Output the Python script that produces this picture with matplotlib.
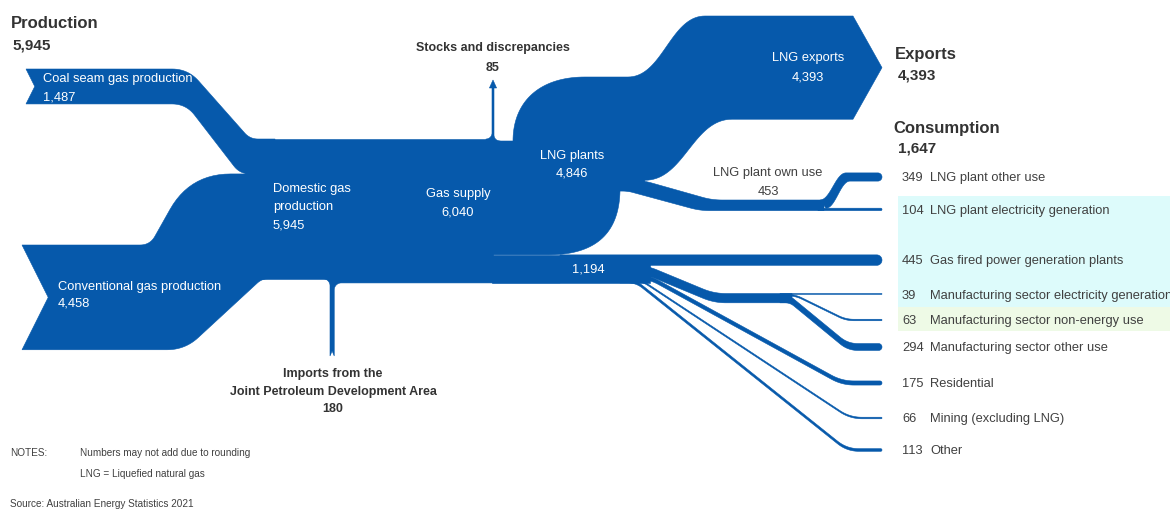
import numpy as np
import matplotlib.pyplot as plt
from matplotlib.patches import Polygon, Rectangle

plt.rcParams['font.family'] = ['Liberation Sans', 'DejaVu Sans']

# gas flows, PJ
coal_seam = 1487
conventional = 4458
domestic = 5945
imports_jpda = 180
stocks = 85
gas_supply = 6040
lng_plants = 4846
lng_exports = 4393
own_use = 453
own_use_vals = [349, 104]
own_use_names = ['LNG plant other use', 'LNG plant electricity generation']
domestic_use = 1194
use_vals = [445, 39, 63, 294, 175, 66, 113]
use_names = ['Gas fired power generation plants',
             'Manufacturing sector electricity generation',
             'Manufacturing sector non-energy use',
             'Manufacturing sector other use',
             'Residential', 'Mining (excluding LNG)', 'Other']
production_total = 5945
exports_total = 4393
consumption_total = 1647

# layout, pixel units with y going down
S = 0.0235        # px per PJ
TOP = 140         # top of the trunk
END_X = 882       # right end of the consumption flows
row_y = [178, 211, 261, 296, 321, 348, 384, 419, 451]
fan_x = [(648, 842), (640, 850), (636, 847)]   # residential, mining, other
BLUE = '#0659ab'
GREY = '#404040'
FS = 9.3

fig = plt.figure(figsize=(11.7, 5.1), dpi=100)
ax = fig.add_axes([0, 0, 1, 1])
ax.set_xlim(0, 1170)
ax.set_ylim(510, 0)
ax.axis('off')


def cubic(p0, p1, p2, p3, n=40):
    t = np.linspace(0, 1, n)[:, None]
    p0, p1, p2, p3 = map(np.asarray, (p0, p1, p2, p3))
    return (1-t)**3*p0 + 3*(1-t)**2*t*p1 + 3*(1-t)*t**2*p2 + t**3*p3


def sbend(x0, y0, x1, y1, k=0.4):
    dx = x1 - x0
    return cubic((x0, y0), (x0 + k*dx, y0), (x1 - k*dx, y1), (x1, y1))


def arc(cx, cy, r, a0, a1, n=20):
    a = np.radians(np.linspace(a0, a1, n))
    return np.column_stack([cx + r*np.cos(a), cy + r*np.sin(a)])


def rounded(pts, rad, n=14):
    # polyline with its inner corners rounded off
    pts = np.asarray(pts, float)
    if np.isscalar(rad):
        rad = [rad]*(len(pts) - 2)
    out = [pts[:1]]
    t = np.linspace(0, 1, n)[:, None]
    for i in range(1, len(pts) - 1):
        p0, p1, p2 = pts[i-1], pts[i], pts[i+1]
        d1, d2 = p0 - p1, p2 - p1
        l1, l2 = np.hypot(*d1), np.hypot(*d2)
        r = min(rad[i-1], l1/2, l2/2)
        a, b = p1 + d1/l1*r, p1 + d2/l2*r
        out.append((1-t)**2*a + 2*(1-t)*t*p1 + t**2*b)
    out.append(pts[-1:])
    return np.vstack(out)


def shape(*parts):
    pts = np.vstack([np.atleast_2d(np.asarray(p, float)) for p in parts])
    ax.add_patch(Polygon(pts, closed=True, fc=BLUE, ec=BLUE, lw=0.4))


def line_flow(path, w, rad=10, cap=True, bot=None):
    # band of vertical thickness w whose top edge follows path
    path = np.asarray(path, float)
    if bot is None:
        bot = path + [0, w]
    top, low = rounded(path, rad), rounded(bot, rad)
    parts = [top]
    if cap:
        r = w/2
        parts.append(arc(path[-1, 0], path[-1, 1] + r, r, -90, 90))
    parts.append(low[::-1])
    shape(*parts)


# highlight boxes behind some consumption rows
ax.add_patch(Rectangle((898, 197), 272, 111, fc='#ddfbfb', ec='none'))
ax.add_patch(Rectangle((898, 308), 272, 24, fc='#eefae6', ec='none'))

# production inputs
wc = coal_seam*S
wv = conventional*S
wd = domestic*S
cy, vy = 70, 246
top = rounded([(26, cy), (188, cy), (250, TOP), (275, TOP)], [16, 8])
bot = rounded([(26, cy + wc), (186, cy + wc), (240, TOP + wc), (275, TOP + wc)], [14, 10])
shape(top, bot[::-1], [(26 + wc/4, cy + wc/2)])

top = rounded([(22, vy), (150, vy), (190, TOP + wc), (275, TOP + wc)], [10, 42])
bot = rounded([(22, vy + wv), (185, vy + wv), (262, TOP + wd), (275, TOP + wd)], [18, 8])
shape(top, bot[::-1], [(22 + wv/4, vy + wv/2)])

# domestic production trunk
sx = 492
shape([(245, TOP), (sx + 1, TOP), (sx + 1, TOP + wd), (245, TOP + wd)])

# imports joining from below
ix, iw, ib, r = 330, imports_jpda*S, TOP + wd, 7
shape([(ix, 357)], arc(ix - r, ib + r, r, 0, -90), [(560, ib), (560, ib + iw)],
      arc(ix + iw + r, ib + iw + r, r, -90, -180), [(ix + iw, 357), (ix + iw/2, 352)])

# stocks and discrepancies leaving upwards
sw = stocks*S
shape([(sx, 89), (sx, TOP - 6)], arc(sx - 6, TOP - 6, 6, 0, 90),
      [(sx - 6, TOP + 5), (sx + sw + 10, TOP + 5)],
      arc(sx + sw + 6, TOP + sw - 6, 6, 90, 180),
      [(sx + sw, 89), (sx + sw + 2.6, 89), (sx + sw/2, 81), (sx - 2.6, 89)])

# LNG plants and exports
ly0 = TOP + sw
wl = lng_plants*S
we = lng_exports*S
LT, EX = 78, 17
top = np.vstack([[(sx, ly0), (513, ly0)],
                 cubic((513, ly0), (513, ly0 - 38), (538, LT), (585, LT)),
                 sbend(628, LT, 705, EX, 0.45),
                 [(853, EX), (882, EX + we/2), (853, EX + we)]])
low = np.vstack([sbend(645, LT + we, 732, EX + we, 0.45)[::-1],
                 [(642, LT + wl)],
                 cubic((548, ly0 + wl), (595, ly0 + wl), (619, 235), (620, 192))[::-1],
                 [(sx, ly0 + wl)]])
shape(top, low)

# LNG plant own use and its split
wo = own_use*S
oy = 201
SPLIT = 824
line_flow([(615, LT + we), (642, LT + we), (712, oy), (SPLIT, oy)], wo, cap=False,
          bot=[(615, LT + wl), (627, LT + wl), (700, oy + wo), (SPLIT, oy + wo)])
w1, w2 = [v*S for v in own_use_vals]
ends = np.vstack([sbend(SPLIT - 4, oy, 846, row_y[0] - w1/2, 0.4), [(END_X - w1/2, row_y[0] - w1/2)]])
ends_b = np.vstack([sbend(SPLIT + 2, oy + w1, 850, row_y[0] + w1/2, 0.4),
                    [(END_X - w1/2, row_y[0] + w1/2)]])
shape(ends, arc(END_X - w1/2, row_y[0], w1/2, -90, 90), ends_b[::-1])
line_flow([(SPLIT - 6, oy + w1), (END_X - w2/2, oy + w1)], w2)

# domestic consumption
gy = ly0 + wl
shape([(sx, gy), (650, gy), (650, gy + domestic_use*S), (sx, gy + domestic_use*S)])
ws = [v*S for v in use_vals]
line_flow([(560, gy), (END_X - ws[0]/2, gy)], ws[0])
fy = gy + ws[0]
wm = sum(ws[1:4])
MFG_Y = 294.5
line_flow([(620, fy), (646, fy), (714, MFG_Y), (792, MFG_Y)], wm, rad=12, cap=False)
y = MFG_Y
line_flow([(780, y), (END_X - ws[1]/2, y)], ws[1])
y += ws[1]
y1 = row_y[4] - ws[2]/2
line_flow([(780, y), (795, y), (846, y1), (END_X - ws[2]/2, y1)], ws[2], rad=8)
y += ws[2]
y1 = row_y[5] - ws[3]/2
line_flow([(780, y), (790, y), (848, y1), (END_X - ws[3]/2, y1)], ws[3], rad=10)
y = fy + wm
for i, (x0, x1) in zip((4, 5, 6), fan_x):
    y1 = row_y[i + 2] - ws[i]/2
    line_flow([(620, y), (x0, y), (x1, y1), (END_X - ws[i]/2, y1)], ws[i], rad=12)
    y += ws[i]


# texts in the bands
def wtxt(x, y, s, ha='left', c='white'):
    ax.text(x, y, s, color=c, fontsize=FS, ha=ha, va='center')


wtxt(43, 79, 'Coal seam gas production')
wtxt(43, 97, f'{coal_seam:,}')
wtxt(58, 287, 'Conventional gas production')
wtxt(58, 304, f'{conventional:,}')
wtxt(273, 189, 'Domestic gas')
wtxt(273, 207, 'production')
wtxt(273, 226, f'{domestic:,}')
wtxt(458, 194, 'Gas supply', 'center')
wtxt(458, 213, f'{gas_supply:,}', 'center')
wtxt(572, 156, 'LNG plants', 'center')
wtxt(572, 174, f'{lng_plants:,}', 'center')
wtxt(808, 58, 'LNG exports', 'center')
wtxt(808, 77, f'{lng_exports:,}', 'center')
wtxt(588, 270, f'{domestic_use:,}', 'center')
wtxt(768, 173, 'LNG plant own use', 'center', GREY)
wtxt(768, 192, f'{own_use:,}', 'center', GREY)

# consumption rows
for yy, v, name in zip(row_y, own_use_vals + use_vals, own_use_names + use_names):
    ax.text(902, yy, f'{v:,}', color=GREY, fontsize=FS, va='center')
    ax.text(930, yy, name, color=GREY, fontsize=FS, va='center')


# headings
def btxt(x, y, s, size, ha='left'):
    ax.text(x, y, s, color='#333333', fontsize=size, fontweight='bold', ha=ha, va='center')


btxt(11, 23, 'Production', 12)
btxt(12, 46, f'{production_total:,}', 11)
btxt(895, 54, 'Exports', 12)
btxt(898, 75, f'{exports_total:,}', 11)
btxt(893, 128, 'Consumption', 12)
btxt(898, 149, f'{consumption_total:,}', 11)
btxt(493, 48, 'Stocks and discrepancies', 9, 'center')
btxt(493, 68, f'{stocks:,}', 9, 'center')
btxt(333, 374, 'Imports from the', 9, 'center')
btxt(333, 392, 'Joint Petroleum Development Area', 9, 'center')
btxt(333, 409, f'{imports_jpda:,}', 9, 'center')

# notes
for x, y, s in [(10, 453, 'NOTES:'), (80, 453, 'Numbers may not add due to rounding'),
                (80, 474, 'LNG = Liquefied natural gas'),
                (10, 504, 'Source: Australian Energy Statistics 2021')]:
    ax.text(x, y, s, color=GREY, fontsize=7.2, va='center')

fig.savefig('out.png', dpi=100)
